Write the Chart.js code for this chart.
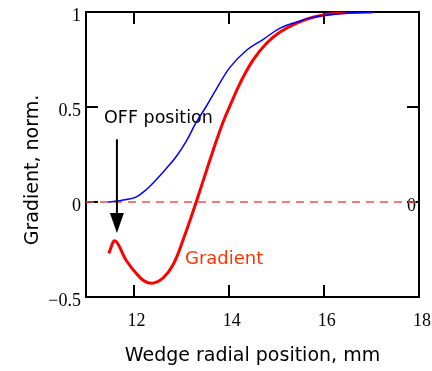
<!DOCTYPE html>
<html lang="en">

<head>
    <meta charset="UTF-8">
    <script src="https://cdn.jsdelivr.net/npm/chart.js"></script>
    <title>Wedge gradient</title>
    <style>
        body { margin: 0; background: #fff; }
        canvas { display: block; }
    </style>
</head>

<body>
    <canvas id="grafico" width="432" height="371"></canvas>
</body>

</html>

<script>
    // blue curve (reference profile)
    const xAzul = [11.46, 11.67, 11.85, 12.05, 12.26, 12.47, 12.68, 12.89, 13.10, 13.31, 13.52, 13.73, 14.03, 14.38, 14.72, 15.08, 15.43, 15.77, 16.13, 16.50, 17.03];
    const yAzul = [0.0, 0.005, 0.013, 0.026, 0.063, 0.116, 0.174, 0.237, 0.316, 0.416, 0.50, 0.59, 0.71, 0.80, 0.855, 0.915, 0.947, 0.972, 0.986, 0.995, 1.0];

    // red curve (Gradient)
    const xVermelho = [11.48, 11.61, 11.84, 12.05, 12.22, 12.41, 12.62, 12.83, 13.04, 13.25, 13.46, 13.67, 13.88, 14.05, 14.24, 14.51, 14.80, 15.08, 15.43, 15.77, 16.13, 16.50, 17.03];
    const yVermelho = [-0.27, -0.205, -0.305, -0.374, -0.415, -0.427, -0.40, -0.33, -0.20, -0.05, 0.11, 0.27, 0.42, 0.52, 0.626, 0.747, 0.837, 0.895, 0.942, 0.972, 0.99, 0.997, 1.0];

    // zero reference line
    const xZero = [11, 18];
    const yZero = [0, 0];

    // axis ticks
    const ticksX = [12, 14, 16, 18];
    const ticksY = [-0.5, 0, 0.5, 1];

    // arrow: x, start y, tip y
    const seta = [11.65, 0.33, -0.163];

    function pontos(xs, ys) {
        return xs.map((x, i) => ({ x: x, y: ys[i] }));
    }

    const fonteTexto = "'DejaVu Sans', sans-serif";
    const fonteNumeros = "'Liberation Serif', 'Times New Roman', serif";

    const anotacoes = {
        id: 'anotacoes',
        afterDatasetsDraw(chart) {
            const ctx = chart.ctx;
            const sx = chart.scales.x;
            const sy = chart.scales.y;

            // arrow pointing at the OFF position
            const ax = sx.getPixelForValue(seta[0]);
            const ay1 = sy.getPixelForValue(seta[1]);
            const ay2 = sy.getPixelForValue(seta[2]);
            ctx.save();
            ctx.strokeStyle = '#000';
            ctx.fillStyle = '#000';
            ctx.lineWidth = 2;
            ctx.beginPath();
            ctx.moveTo(ax, ay1);
            ctx.lineTo(ax, ay2 - 18);
            ctx.stroke();
            ctx.beginPath();
            ctx.moveTo(ax - 7, ay2 - 20);
            ctx.lineTo(ax + 7, ay2 - 20);
            ctx.lineTo(ax, ay2);
            ctx.closePath();
            ctx.fill();

            // labels
            ctx.textBaseline = 'alphabetic';
            ctx.textAlign = 'left';
            ctx.font = '17.5px ' + fonteTexto;
            ctx.fillStyle = '#000';
            ctx.fillText('OFF position', sx.getPixelForValue(11.38), sy.getPixelForValue(0.415));
            ctx.font = '18px ' + fonteTexto;
            ctx.fillStyle = '#ff3300';
            ctx.fillText('Gradient', sx.getPixelForValue(13.08), sy.getPixelForValue(-0.325));

            // y axis title
            ctx.fillStyle = '#000';
            ctx.font = '19px ' + fonteTexto;
            ctx.translate(33, 170);
            ctx.rotate(-Math.PI / 2);
            ctx.textAlign = 'center';
            ctx.textBaseline = 'middle';
            ctx.fillText('Gradient, norm.', 0, 0);
            ctx.restore();
        }
    };

    function fixarTicks(valores) {
        return function (scale) {
            scale.ticks = valores.map(v => ({ value: v }));
        };
    }

    // fixed box size for each axis, no extra padding for overhanging labels
    function tamanhoFixo(prop, valor) {
        return function (s) {
            s[prop] = valor;
            s.paddingLeft = s.paddingRight = s.paddingTop = s.paddingBottom = 0;
        };
    }

    const gradeComum = {
        color: '#000',
        lineWidth: 2,
        drawOnChartArea: false,
        tickLength: -12
    };
    const bordaComum = { color: '#000', width: 2 };

    const config = {
        type: 'line',
        data: {
            datasets: [{
                data: pontos(xAzul, yAzul),
                borderColor: '#0000ff',
                borderWidth: 1.5,
                pointRadius: 0,
                tension: 0.4
            }, {
                data: pontos(xVermelho, yVermelho),
                borderColor: '#ff0000',
                borderWidth: 3,
                pointRadius: 0,
                tension: 0.4
            }, {
                data: pontos(xZero, yZero),
                borderColor: '#f24b4b',
                borderWidth: 1.5,
                borderDash: [8, 6],
                pointRadius: 0
            }]
        },
        options: {
            responsive: false,
            animation: false,
            devicePixelRatio: 1,
            layout: { padding: 0, autoPadding: false },
            plugins: {
                legend: { display: false },
                tooltip: { enabled: false }
            },
            scales: {
                x: {
                    type: 'linear',
                    position: 'bottom',
                    min: 11,
                    max: 18,
                    afterBuildTicks: fixarTicks(ticksX),
                    afterFit: tamanhoFixo('height', 74),
                    grid: gradeComum,
                    border: bordaComum,
                    ticks: {
                        color: '#000',
                        font: { family: fonteNumeros, size: 18 },
                        padding: 25,
                        labelOffset: 3,
                        maxRotation: 0
                    },
                    title: {
                        display: true,
                        text: 'Wedge radial position, mm',
                        color: '#000',
                        font: { family: fonteTexto, size: 19 },
                        padding: { top: 0, bottom: 4 }
                    }
                },
                x2: {
                    type: 'linear',
                    position: 'top',
                    min: 11,
                    max: 18,
                    afterBuildTicks: fixarTicks(ticksX),
                    afterFit: tamanhoFixo('height', 12),
                    grid: gradeComum,
                    border: bordaComum,
                    ticks: { display: false }
                },
                y: {
                    type: 'linear',
                    position: 'left',
                    min: -0.5,
                    max: 1,
                    afterBuildTicks: fixarTicks(ticksY),
                    afterFit: tamanhoFixo('width', 86),
                    grid: gradeComum,
                    border: bordaComum,
                    ticks: {
                        color: '#000',
                        font: { family: fonteNumeros, size: 18 },
                        padding: 17,
                        labelOffset: 4,
                        callback: v => v < 0 ? '\u2212' + Math.abs(v) : String(v)
                    }
                },
                y2: {
                    type: 'linear',
                    position: 'right',
                    min: -0.5,
                    max: 1,
                    afterBuildTicks: fixarTicks(ticksY),
                    afterFit: tamanhoFixo('width', 13),
                    grid: gradeComum,
                    border: bordaComum,
                    ticks: {
                        color: '#000',
                        font: { family: fonteNumeros, size: 18 },
                        mirror: true,
                        padding: -3,
                        labelOffset: 4,
                        callback: v => v === 0 ? '0' : ''
                    }
                }
            }
        },
        plugins: [anotacoes]
    };

    new Chart(document.getElementById('grafico'), config);
</script>
